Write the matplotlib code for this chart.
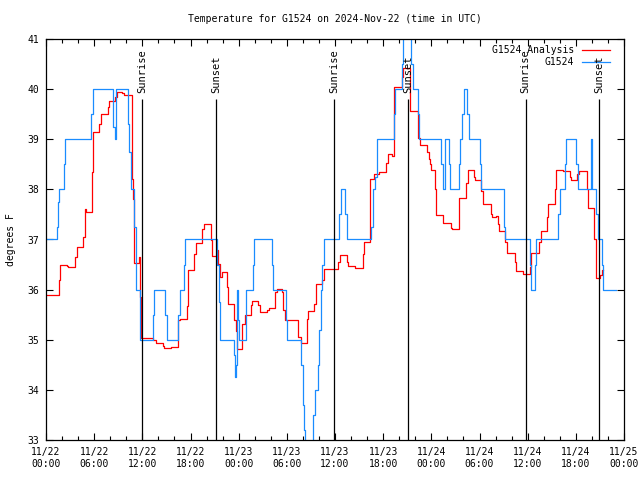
import matplotlib
matplotlib.use('Agg')
import matplotlib.pyplot as plt
import matplotlib.dates as mdates
import numpy as np

plt.rcParams['font.family'] = ['DejaVu Sans Mono']
plt.rcParams['font.size'] = 7

start = np.datetime64('2024-11-22T00:00')
end = np.datetime64('2024-11-25T00:00')

# hours since 11/22 00:00 UTC, degrees F (step values)
obs_hours = [0.0, 1.4, 1.55, 1.67, 2.3, 2.42, 5.67, 5.8, 8.4, 8.6, 8.75, 10.25, 10.4, 10.6,
             10.96, 11.2, 11.7, 13.37, 13.5, 14.82, 15.03, 16.48, 16.69, 17.23, 17.36,
             21.34, 21.5, 21.68, 23.42, 23.55, 23.67, 23.83, 23.96, 24.1, 24.87, 25.83,
             25.95, 28.2, 28.32, 29.85, 29.98, 31.72, 31.97, 32.14, 32.26, 33.26, 33.47,
             33.84, 34.01, 34.22, 34.42, 34.67, 36.54, 36.75, 37.29, 37.46, 40.53, 40.7,
             41.03, 41.24, 43.4, 43.52, 44.35, 44.48, 45.51, 45.68, 46.34, 46.51, 49.24,
             49.41, 49.74, 50.2, 50.36, 51.4, 51.53, 51.86, 52.02, 52.48, 52.73, 54.02,
             54.22, 57.05, 57.21, 60.29, 60.45, 60.87, 61.03, 63.82, 63.98, 64.61, 64.81,
             66.06, 66.31, 67.85, 67.97, 68.55, 68.76, 69.3, 69.42, 70.96]
obs_temps = [37.0, 37.25, 37.75, 38.0, 38.5, 39.0, 39.5, 40.0, 39.25, 39.0, 40.0, 39.3, 38.75, 38.0,
             37.25, 36.0, 35.0, 35.5, 36.0, 35.5, 35.0, 35.5, 36.0, 36.5, 37.0,
             36.5, 35.75, 35.0, 34.7, 34.25, 34.5, 36.0, 35.4, 35.0, 36.0, 36.5,
             37.0, 36.5, 36.0, 35.4, 35.0, 34.5, 33.7, 33.2, 32.5, 33.5, 34.0,
             34.5, 35.2, 36.0, 36.5, 37.0, 37.5, 38.0, 37.5, 37.0, 37.25, 38.0,
             38.25, 39.0, 39.5, 40.0, 40.5, 41.5, 40.5, 40.0, 39.5, 39.0, 38.5,
             38.0, 39.0, 38.5, 38.0, 38.5, 39.0, 39.5, 40.0, 39.5, 39.0, 38.5,
             38.0, 37.25, 37.0, 36.5, 36.0, 36.5, 37.0, 37.5, 38.0, 38.5, 39.0,
             38.5, 38.0, 39.0, 38.0, 37.5, 37.0, 36.5, 36.0, 36.0]

ana_hours = [0.0, 1.67, 1.8, 2.6, 2.75, 3.67, 3.8, 4.67, 4.8, 4.875, 5.04, 5.7, 5.83, 6.6, 6.8,
             7.67, 7.8, 8.6, 8.875, 9.5, 9.7, 10.67, 10.8, 10.96, 11.55, 11.63, 11.67, 11.8,
             11.875, 13.37, 13.7, 14.53, 14.74, 15.57, 16.48, 16.69, 17.52, 17.73, 18.44,
             18.64, 19.47, 19.68, 20.51, 20.72, 21.26, 21.47, 21.68, 21.88, 22.51, 22.71,
             23.42, 23.63, 23.83, 24.46, 24.75, 25.5, 25.62, 26.45, 26.66, 27.49, 27.78,
             28.53, 28.73, 29.36, 29.56, 29.77, 31.43, 31.72, 32.47, 32.68, 33.43, 33.63,
             34.34, 34.63, 36.42, 36.62, 37.45, 37.58, 38.49, 39.45, 39.61, 40.36, 40.9,
             41.5, 42.4, 42.55, 43.06, 43.35, 44.3, 44.45, 45.35, 46.4, 46.6, 47.5, 47.7,
             47.8, 47.91, 48.41, 48.53, 49.45, 50.4, 50.57, 51.4, 52.36, 52.56, 53.31,
             53.48, 54.22, 54.43, 55.39, 55.55, 56.09, 56.3, 56.47, 57.21, 57.46, 58.38,
             58.54, 59.42, 60.29, 60.45, 61.41, 61.62, 62.36, 62.53, 63.36, 63.49, 64.44,
             65.27, 65.44, 66.18, 66.39, 67.35, 67.51, 68.26, 68.47, 69.01, 69.22, 69.42]
ana_temps = [35.9, 36.2, 36.5, 36.48, 36.45, 36.66, 36.85, 37.05, 37.4, 37.6, 37.55, 38.35, 39.15, 39.3, 39.5,
             39.65, 39.77, 39.85, 39.95, 39.92, 39.88, 38.2, 37.8, 36.53, 36.6, 36.66, 35.85, 35.5,
             35.03, 35.0, 34.94, 34.87, 34.83, 34.85, 35.39, 35.42, 35.67, 36.39, 36.71,
             36.94, 37.2, 37.3, 36.99, 36.67, 36.8, 36.52, 36.25, 36.35, 36.05, 35.72,
             35.39, 35.17, 34.81, 35.32, 35.5, 35.69, 35.77, 35.7, 35.56, 35.6, 35.64,
             35.96, 36.02, 35.96, 35.6, 35.4, 35.06, 34.94, 35.42, 35.57, 35.72, 36.12,
             36.2, 36.42, 36.55, 36.69, 36.55, 36.47, 36.44, 36.72, 36.96, 38.2, 38.3,
             38.35, 38.52, 38.7, 38.66, 40.04, 40.25, 40.42, 39.57, 39.02, 38.89, 38.75, 38.6,
             38.5, 38.39, 38.0, 37.49, 37.33, 37.23, 37.2, 37.83, 38.12, 38.39, 38.25,
             38.18, 37.96, 37.71, 37.5, 37.44, 37.47, 37.3, 37.17, 36.96, 36.73, 36.55,
             36.38, 36.31, 36.45, 36.73, 36.95, 37.17, 37.45, 37.71, 38.0, 38.38, 38.36,
             38.25, 38.18, 38.3, 38.36, 38.0, 37.63, 37.0, 36.23, 36.3, 36.4, 36.4]

sun_hours = [12.0, 21.2, 35.92, 45.1, 59.75, 68.9]
sun_labels = ['Sunrise', 'Sunset', 'Sunrise', 'Sunset', 'Sunrise', 'Sunset']


def to_time(hours):
    mins = np.round(np.array(hours) * 60).astype(int)
    return start + mins.astype('timedelta64[m]')


fig = plt.figure(figsize=(6.4, 4.8), dpi=100)
ax = fig.add_axes([46 / 640, 40 / 480, 578 / 640, 401 / 480])

red = '#ff0000'
blue = '#1a8cff'

ax.step(to_time(ana_hours), ana_temps, where='post', color=red, lw=0.9)
ax.step(to_time(obs_hours), obs_temps, where='post', color=blue, lw=0.9)

for h, lab in zip(sun_hours, sun_labels):
    t = to_time([h])[0]
    ax.vlines(t, 33, 39.8, color='black', lw=0.9)
    ax.text(t, 39.93, lab, rotation=90, ha='center', va='bottom', fontsize=7.5)

ax.set_xlim(start, end)
ax.set_ylim(33, 41)
ax.set_yticks(range(33, 42))

ax.xaxis.set_major_locator(mdates.HourLocator(byhour=[0, 6, 12, 18]))
ax.xaxis.set_minor_locator(mdates.HourLocator(byhour=range(0, 24, 2)))
ax.xaxis.set_major_formatter(mdates.DateFormatter('%m/%d\n%H:%M'))
ax.tick_params(which='both', direction='in', top=True, right=True, width=0.8)
ax.tick_params(which='major', length=5, pad=5)
ax.tick_params(which='minor', length=3)
for s in ax.spines.values():
    s.set_linewidth(0.9)

ax.set_ylabel('degrees F')
ax.yaxis.set_label_coords(-0.052, 0.5)

# key, drawn gnuplot-style (text right aligned, sample after)
ax.text(0.9135, 0.9726, 'G1524 Analysis', transform=ax.transAxes, ha='right', va='center')
ax.plot([0.927, 0.976], [0.9726, 0.9726], transform=ax.transAxes, color=red, lw=0.9)
ax.text(0.9135, 0.9414, 'G1524', transform=ax.transAxes, ha='right', va='center')
ax.plot([0.927, 0.976], [0.9414, 0.9414], transform=ax.transAxes, color=blue, lw=0.9)

fig.text(335 / 640, 1 - 19 / 480, 'Temperature for G1524 on 2024-Nov-22 (time in UTC)',
         ha='center', va='center')

fig.savefig('out.png', dpi=100)
